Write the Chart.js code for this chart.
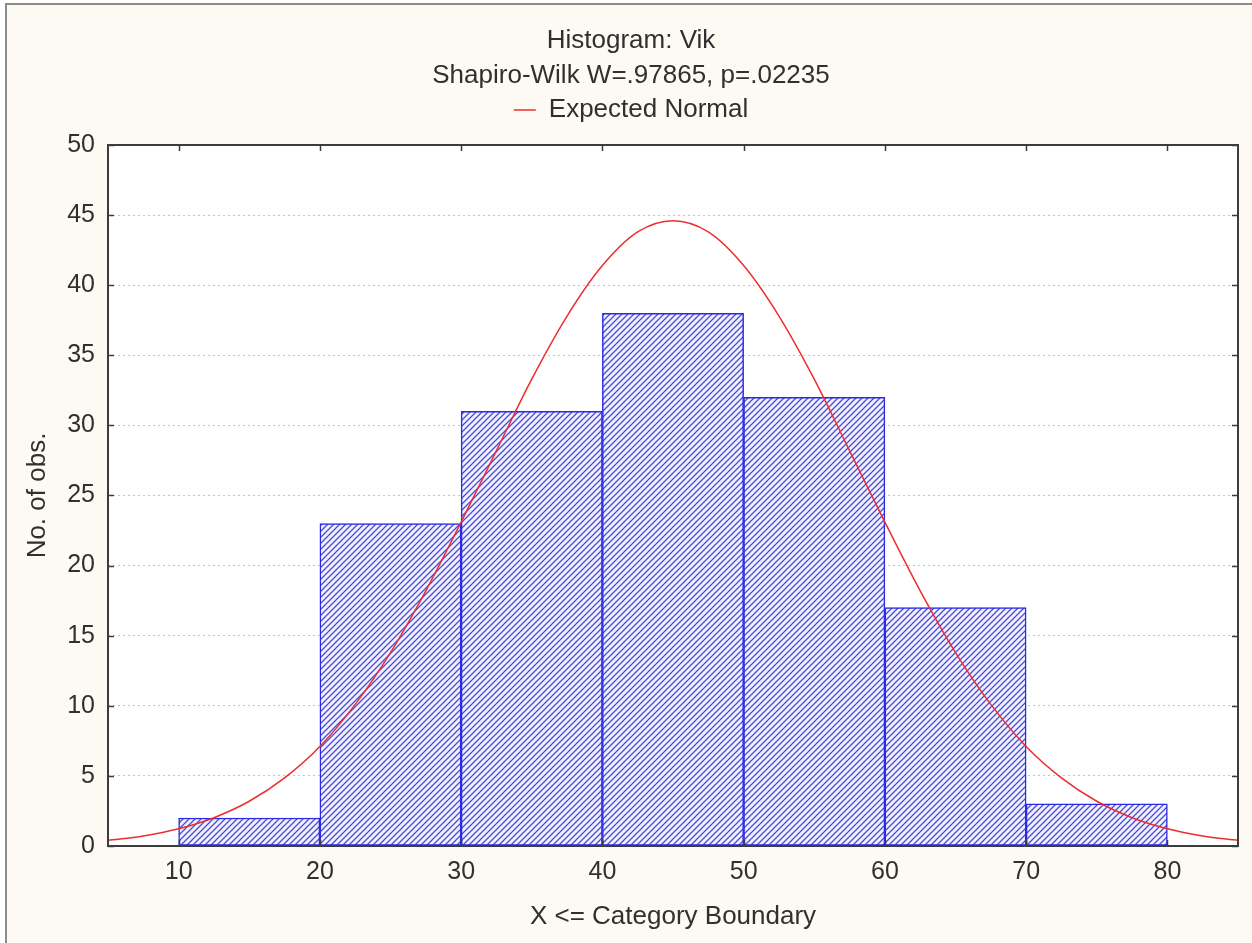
<!DOCTYPE html>
<html>
<head>
<meta charset="utf-8">
<script src="https://cdn.jsdelivr.net/npm/chart.js@4/dist/chart.umd.min.js"></script>
<style>
  html, body { margin: 0; padding: 0; background: #ffffff; width: 1252px; height: 943px; overflow: hidden; }
  #frame { position: absolute; left: 5px; top: 3px; right: 0; bottom: 0;
           border-top: 2px solid #8c8c8c; border-left: 2px solid #8c8c8c; background: #fdfaf3; }
  #c { position: absolute; left: 0; top: 0; }
</style>
</head>
<body>
<div id="frame"></div>
<canvas id="c" width="1252" height="943"></canvas>
<script>
// ---- data ----
const titleLines = ['Histogram: Vik', 'Shapiro-Wilk W=.97865, p=.02235'];
const legendLabel = 'Expected Normal';
const xTitle = 'X <= Category Boundary';
const yTitle = 'No. of obs.';

const binLower = [10, 20, 30, 40, 50, 60, 70];
const binUpper = [20, 30, 40, 50, 60, 70, 80];
const counts   = [2, 23, 31, 38, 32, 17, 3];

const curveX = [5, 7.5, 10, 12.5, 15, 17.5, 20, 22.5, 25, 27.5, 30, 32.5, 35, 37.5, 40, 42.5, 45,
                47.5, 50, 52.5, 55, 57.5, 60, 62.5, 65, 67.5, 70, 72.5, 75, 77.5, 80, 82.5, 85];
const curveY = [0.41, 0.72, 1.23, 2.02, 3.19, 4.86, 7.1, 10.1, 13.8, 18.2, 23.1, 28.2, 33.3, 37.8, 41.4, 43.8, 44.6,
                43.8, 41.4, 37.8, 33.3, 28.2, 23.1, 18.2, 13.8, 10.1, 7.1, 4.86, 3.19, 2.02, 1.23, 0.72, 0.41];

const xTickValues = [10, 20, 30, 40, 50, 60, 70, 80];
const yTickValues = [0, 5, 10, 15, 20, 25, 30, 35, 40, 45, 50];

// ---- styling ----
const FONT = '"Liberation Sans", Arial, sans-serif';
const TEXT = '#303030';

function hatch() {
  const s = 6;
  const c = document.createElement('canvas');
  c.width = s; c.height = s;
  const g = c.getContext('2d');
  g.fillStyle = '#f2f2ff';
  g.fillRect(0, 0, s, s);
  g.strokeStyle = '#4b4bdb';
  g.lineWidth = 1.3;
  g.beginPath();
  g.moveTo(-1, s + 1); g.lineTo(s + 1, -1);
  g.moveTo(-1, 1); g.lineTo(1, -1);
  g.moveTo(s - 1, s + 1); g.lineTo(s + 1, s - 1);
  g.stroke();
  return document.getElementById('c').getContext('2d').createPattern(c, 'repeat');
}

const plotDeco = {
  id: 'plotDeco',
  beforeDraw(chart) {
    const {ctx, chartArea: a} = chart;
    ctx.save();
    ctx.fillStyle = '#ffffff';
    ctx.fillRect(a.left, a.top, a.right - a.left, a.bottom - a.top);
    ctx.restore();
  },
  afterDraw(chart) {
    const {ctx, chartArea: a, scales} = chart;
    ctx.save();
    ctx.strokeStyle = '#3c3c3c';
    ctx.lineWidth = 1.5;
    const L = 6;
    ctx.beginPath();
    yTickValues.forEach(v => {
      const y = Math.round(scales.y.getPixelForValue(v)) + 0.5;
      ctx.moveTo(a.left, y); ctx.lineTo(a.left + L, y);
      ctx.moveTo(a.right, y); ctx.lineTo(a.right - L, y);
    });
    xTickValues.forEach(v => {
      const x = Math.round(scales.x.getPixelForValue(v)) + 0.5;
      ctx.moveTo(x, a.top); ctx.lineTo(x, a.top + L);
      ctx.moveTo(x, a.bottom); ctx.lineTo(x, a.bottom - L);
    });
    ctx.stroke();
    ctx.lineWidth = 2;
    ctx.strokeRect(a.left, a.top, a.right - a.left, a.bottom - a.top);
    ctx.restore();
  }
};

const chart = new Chart(document.getElementById('c'), {
  data: {
    datasets: [
      {
        type: 'bar',
        label: 'Vik',
        data: binLower.map((lo, i) => ({x: (lo + binUpper[i]) / 2, y: counts[i]})),
        backgroundColor: hatch(),
        borderColor: '#2a2ae6',
        borderWidth: 1.5,
        borderSkipped: false,
        barPercentage: 1,
        categoryPercentage: 1,
        order: 1
      },
      {
        type: 'line',
        label: legendLabel,
        data: curveX.map((x, i) => ({x, y: curveY[i]})),
        borderColor: '#ee2d2d',
        borderWidth: 1.5,
        pointRadius: 0,
        fill: false,
        cubicInterpolationMode: 'monotone',
        order: 0
      }
    ]
  },
  options: {
    responsive: false,
    devicePixelRatio: 1,
    animation: false,
    layout: { padding: { top: 0, left: 10, right: 0, bottom: 0 } },
    plugins: {
      tooltip: { enabled: false },
      title: {
        display: true,
        text: titleLines,
        color: TEXT,
        font: { family: FONT, size: 26, weight: 'normal', lineHeight: 1.346 },
        padding: { top: 23, bottom: 0 }
      },
      legend: {
        display: true,
        position: 'top',
        labels: {
          filter: item => item.datasetIndex === 1,
          usePointStyle: true,
          pointStyle: 'line',
          pointStyleWidth: 22,
          padding: 4,
          color: TEXT,
          font: { family: FONT, size: 26 }
        }
      }
    },
    scales: {
      x: {
        type: 'linear',
        position: 'bottom',
        offset: false,
        min: 5, max: 85,
        afterBuildTicks: s => { s.ticks = xTickValues.map(v => ({value: v})); },
        afterFit: s => { s.height = 97; },
        grid: { display: false, drawTicks: false, offset: false },
        border: { display: false },
        ticks: { color: TEXT, padding: 11, maxRotation: 0, font: { family: FONT, size: 25 } },
        title: { display: true, text: xTitle, color: TEXT, padding: { top: 0, bottom: 11 }, font: { family: FONT, size: 26 } }
      },
      x2: {
        type: 'linear',
        position: 'top',
        offset: false,
        min: 5, max: 85,
        afterFit: s => { s.height = 12; },
        grid: { display: false, drawTicks: false },
        border: { display: false },
        ticks: { display: false }
      },
      y: {
        type: 'linear',
        position: 'left',
        min: 0, max: 50,
        afterBuildTicks: s => { s.ticks = yTickValues.map(v => ({value: v})); },
        afterFit: s => { s.width = 98; },
        grid: { color: '#c4c4c4', lineWidth: 1, drawTicks: false },
        border: { display: false, dash: [2, 3] },
        ticks: { color: TEXT, padding: 13, font: { family: FONT, size: 25 } },
        title: { display: true, text: yTitle, color: TEXT, padding: { top: 12, bottom: 0 }, font: { family: FONT, size: 26 } }
      },
      y2: {
        type: 'linear',
        position: 'right',
        min: 0, max: 50,
        afterFit: s => { s.width = 14; },
        grid: { display: false, drawTicks: false },
        border: { display: false },
        ticks: { display: false }
      }
    }
  },
  plugins: [plotDeco]
});
</script>
</body>
</html>
